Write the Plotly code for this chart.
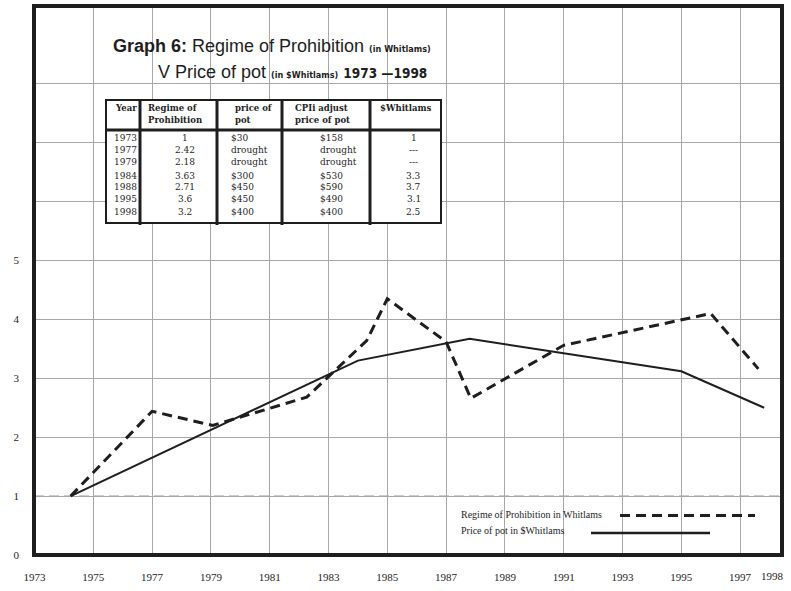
import plotly.graph_objects as go

# ---- data ----
regime_years = [1974.23, 1977.0, 1979.06, 1982.26, 1984.3, 1985.0, 1987.0, 1987.84, 1991.0, 1996.0, 1997.62]
regime_vals = [1.0, 2.44, 2.2, 2.68, 3.64, 4.35, 3.62, 2.66, 3.56, 4.1, 3.16]
price_years = [1974.23, 1984.0, 1987.8, 1995.0, 1997.82]
price_vals = [1.0, 3.3, 3.67, 3.12, 2.5]

x_ticks = [1973, 1975, 1977, 1979, 1981, 1983, 1985, 1987, 1989, 1991, 1993, 1995, 1997]
x_extra_label = 1998
y_grid = [0, 1, 2, 3, 4, 5, 6, 7, 8]
y_labels = ["0", "1", "2", "3", "4", "5", "", "", ""]

table_head1 = ["Year", "Regime of", "price of", "CPIi adjust", "$Whitlams"]
table_head2 = ["", "Prohibition", "pot", "price of pot", ""]
table_years = ["1973", "1977", "1979", "1984", "1988", "1995", "1998"]
table_regime = ["1", "2.42", "2.18", "3.63", "2.71", "3.6", "3.2"]
table_price = ["$30", "drought", "drought", "$300", "$450", "$450", "$400"]
table_cpi = ["$158", "drought", "drought", "$530", "$590", "$490", "$400"]
table_whit = ["1", "---", "---", "3.3", "3.7", "3.1", "2.5"]

name_regime = "Regime of Prohibition in Whitlams"
name_price = "Price of pot in $Whitlams"

# ---- layout helpers (pixel -> paper) ----
W, H = 791, 591
L, R, T, B = 34, 782, 6, 555
def PX(x):
    return (x - L) / (R - L)
def PY(y):
    return (B - y) / (B - T)

ppy = 29.4
x0 = 1973 - 0.5 / ppy
x1 = x0 + (R - L) / ppy
ppu = 58.9
y1 = (B - T) / ppu

INK = "#1e1e1e"
SERIF = "Liberation Serif, Times New Roman, serif"
TSERIF = "DejaVu Serif, serif"
SANS = "Liberation Sans, Arial, sans-serif"
COND = "Liberation Sans Narrow, DejaVu Sans Condensed, sans-serif"

fig = go.Figure()
fig.add_trace(go.Scatter(x=regime_years, y=regime_vals, mode="lines", name=name_regime,
                         line=dict(color=INK, width=3, dash="10px,6px"), showlegend=False))
fig.add_trace(go.Scatter(x=price_years, y=price_vals, mode="lines", name=name_price,
                         line=dict(color=INK, width=2), showlegend=False))

shapes = []
# cover gridline at 1 and draw the gray dashed reference line
shapes.append(dict(type="line", xref="paper", yref="y", x0=0, x1=1, y0=1, y1=1,
                   line=dict(color="white", width=2), layer="between"))
shapes.append(dict(type="line", xref="paper", yref="y", x0=0, x1=1, y0=1, y1=1,
                   line=dict(color="#999999", width=1.2, dash="10px,5px"), layer="between"))

# table
tx = [106, 140, 217, 282, 370, 441]
t_top, t_head, t_bot = 100, 130, 223
shapes.append(dict(type="rect", xref="paper", yref="paper", x0=PX(tx[0]), x1=PX(tx[-1]),
                   y0=PY(t_bot), y1=PY(t_top), fillcolor="white",
                   line=dict(color=INK, width=2), layer="above"))
for xv in tx[1:-1]:
    shapes.append(dict(type="line", xref="paper", yref="paper", x0=PX(xv), x1=PX(xv),
                       y0=PY(t_bot + 2), y1=PY(t_top), line=dict(color=INK, width=3), layer="above"))
shapes.append(dict(type="line", xref="paper", yref="paper", x0=PX(tx[0]), x1=PX(tx[-1]),
                   y0=PY(t_head), y1=PY(t_head), line=dict(color=INK, width=3), layer="above"))

# legend lines
shapes.append(dict(type="line", xref="paper", yref="paper", x0=PX(620), x1=PX(755),
                   y0=PY(515.5), y1=PY(515.5), line=dict(color=INK, width=3, dash="10px,6px"), layer="above"))
shapes.append(dict(type="line", xref="paper", yref="paper", x0=PX(591), x1=PX(710),
                   y0=PY(533), y1=PY(533), line=dict(color=INK, width=2.5), layer="above"))

# frame
shapes.append(dict(type="rect", xref="paper", yref="paper", x0=0, x1=1, y0=0, y1=1,
                   line=dict(color=INK, width=4), layer="above"))

ann = []
def txt(x, y, s, size, family, anchor="left", bold=False):
    ann.append(dict(xref="paper", yref="paper", x=PX(x), y=PY(y), text=("<b>%s</b>" % s) if bold else s,
                    showarrow=False, xanchor=anchor, yanchor="middle",
                    font=dict(size=size, family=family, color=INK)))

# title
ann.append(dict(xref="paper", yref="paper", x=PX(111), y=PY(46.5), showarrow=False,
                xanchor="left", yanchor="middle",
                text=("<b>Graph 6:</b> Regime of Prohibition "
                      "<span style='font-size:9px;font-family:%s'><b>(in Whitlams)</b></span>" % COND),
                font=dict(size=18, family=SANS, color=INK)))
ann.append(dict(xref="paper", yref="paper", x=PX(156), y=PY(72), showarrow=False,
                xanchor="left", yanchor="middle",
                text=("V Price of pot "
                      "<span style='font-size:9px;font-family:%s'><b>(in $Whitlams)</b></span> "
                      "<span style='font-size:13.5px;font-family:%s'><b>1973 \u20141998</b></span>" % (COND, COND)),
                font=dict(size=18, family=SANS, color=INK)))

# table header
hy1, hy2 = 108.5, 120
HF = 8.5
BF = 9
txt(139, hy1, table_head1[0], HF, TSERIF, "right", True)
txt(146, hy1, table_head1[1], HF, TSERIF, "left", True)
txt(146, hy2, table_head2[1], HF, TSERIF, "left", True)
txt(233, hy1, table_head1[2], HF, TSERIF, "left", True)
txt(233, hy2, table_head2[2], HF, TSERIF, "left", True)
txt(293, hy1, table_head1[3], HF, TSERIF, "left", True)
txt(293, hy2, table_head2[3], HF, TSERIF, "left", True)
txt(406, hy1, table_head1[4], HF, TSERIF, "center", True)

row_y = [138.3, 150, 161.7, 175.7, 187.3, 199.3, 211.7]
for i, ry in enumerate(row_y):
    txt(112, ry, table_years[i], BF, TSERIF, "left")
    txt(185, ry, table_regime[i], BF, TSERIF, "center")
    txt(229, ry, table_price[i], BF, TSERIF, "left")
    txt(318, ry, table_cpi[i], BF, TSERIF, "left")
    txt(413.5, ry, table_whit[i], BF, TSERIF, "center")

# legend text
txt(459, 514.5, name_regime, 10, SERIF, "left")
txt(459, 530, name_price, 10, SERIF, "left")

# extra x label
ann.append(dict(xref="x", yref="paper", x=x_extra_label, y=PY(576), xshift=3, showarrow=False,
                xanchor="center", yanchor="middle", text=str(x_extra_label),
                font=dict(size=11, family=SERIF, color=INK)))

fig.update_layout(
    width=W, height=H,
    margin=dict(l=L, r=W - R, t=T, b=H - B),
    paper_bgcolor="white", plot_bgcolor="white",
    shapes=shapes, annotations=ann, showlegend=False,
    xaxis=dict(range=[x0, x1], tickvals=x_ticks, ticktext=[str(v) for v in x_ticks],
               showgrid=True, gridcolor="#a8a8a8", gridwidth=1, zeroline=False,
               showline=False, ticks="", ticklabelstandoff=14,
               tickfont=dict(size=11, family=SERIF, color=INK)),
    yaxis=dict(range=[0, y1], tickvals=y_grid, ticktext=y_labels,
               showgrid=True, gridcolor="#a8a8a8", gridwidth=1, zeroline=False,
               showline=False, ticks="", ticklabelstandoff=14,
               tickfont=dict(size=11, family=SERIF, color=INK)),
)

fig.write_html("out.html", config={"displayModeBar": False},
               post_script="document.body.style.margin='0';document.body.style.overflow='hidden';")
